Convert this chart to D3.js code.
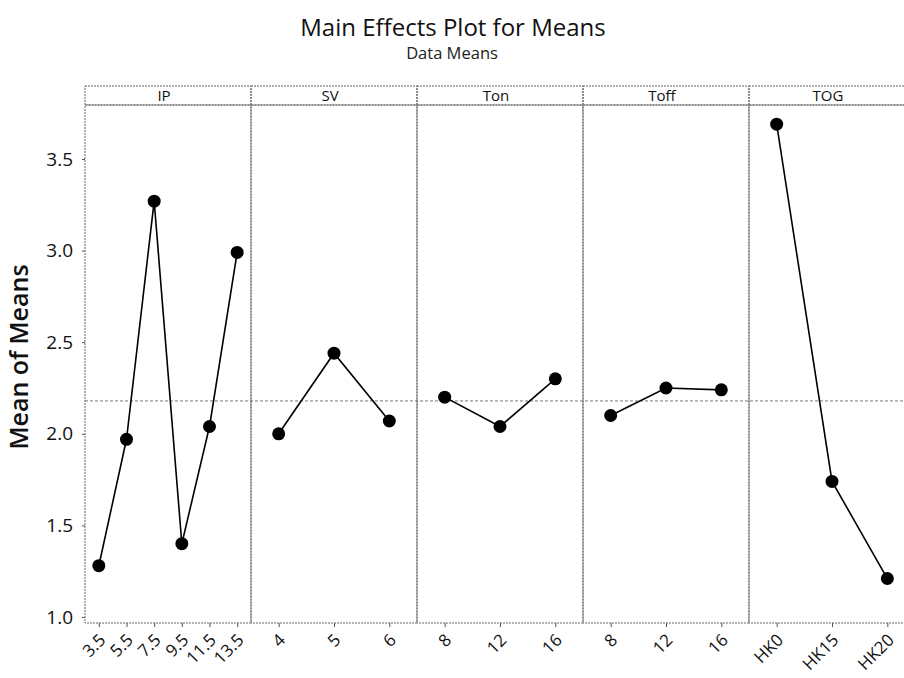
<!DOCTYPE html>
<html>
<head>
<meta charset="utf-8">
<script src="https://cdn.jsdelivr.net/npm/d3@7"></script>
<style>
  body { margin: 0; background: #fff; }
  svg { font-family: "Open Sans", "Noto Sans", sans-serif; }
</style>
</head>
<body>
<div id="chart"></div>
<script>
var w = 904;
var h = 678;

// factors (panels) and their levels
var factors = ["IP", "SV", "Ton", "Toff", "TOG"];
var ipLevels = ["3.5", "5.5", "7.5", "9.5", "11.5", "13.5"];
var svLevels = ["4", "5", "6"];
var tonLevels = ["8", "12", "16"];
var toffLevels = ["8", "12", "16"];
var togLevels = ["HK0", "HK15", "HK20"];

// mean of means for each level
var ipMeans = [1.28, 1.97, 3.27, 1.40, 2.04, 2.99];
var svMeans = [2.00, 2.44, 2.07];
var tonMeans = [2.20, 2.04, 2.30];
var toffMeans = [2.10, 2.25, 2.24];
var togMeans = [3.69, 1.74, 1.21];

var yTicks = [1.0, 1.5, 2.0, 2.5, 3.0, 3.5];

var panels = [
    { name: factors[0], levels: ipLevels, values: ipMeans },
    { name: factors[1], levels: svLevels, values: svMeans },
    { name: factors[2], levels: tonLevels, values: tonMeans },
    { name: factors[3], levels: toffLevels, values: toffMeans },
    { name: factors[4], levels: togLevels, values: togMeans }
];

var left = 85, panelW = 166;
var plotTop = 105, plotBottom = 623, stripTop = 86;

var svg = d3.select("#chart")
    .append("svg")
    .attr("width", w)
    .attr("height", h);

var y = d3.scaleLinear()
    .domain([1, 3.5])
    .range([617, 159]);

var px = d3.scaleBand()
    .domain(factors)
    .range([left, left + panelW * factors.length]);

var grandMean = d3.mean([].concat(ipMeans, svMeans, tonMeans, toffMeans, togMeans));

// titles
svg.append("text")
    .attr("x", 453).attr("y", 36)
    .attr("text-anchor", "middle")
    .attr("font-size", "24px")
    .attr("fill", "#111")
    .text("Main Effects Plot for Means");

svg.append("text")
    .attr("x", 452).attr("y", 59)
    .attr("text-anchor", "middle")
    .attr("font-size", "16.5px")
    .attr("fill", "#222")
    .text("Data Means");

svg.append("text")
    .attr("transform", "translate(28," + 357 + ") rotate(-90)")
    .attr("text-anchor", "middle")
    .attr("font-size", "25px")
    .attr("font-weight", 600)
    .attr("fill", "#111")
    .text("Mean of Means");

// y axis
var yAxis = svg.append("g")
    .attr("transform", "translate(" + left + ",0)")
    .call(d3.axisLeft(y).tickValues(yTicks).tickFormat(d3.format(".1f")).tickSize(3).tickPadding(9));
yAxis.select(".domain").remove();
yAxis.selectAll("line").attr("stroke", "#555");
yAxis.selectAll("text")
    .attr("font-size", "19px")
    .attr("fill", "#111")
    .attr("font-family", "'Open Sans', 'Noto Sans', sans-serif");

// mean reference line
svg.append("line")
    .attr("x1", left).attr("x2", w)
    .attr("y1", y(grandMean)).attr("y2", y(grandMean))
    .attr("stroke", "#777")
    .attr("stroke-width", 1)
    .attr("stroke-dasharray", "3,2");

panels.forEach(function (p) {
    var x0 = px(p.name);
    var g = svg.append("g");

    var x = d3.scalePoint()
        .domain(p.levels)
        .range([x0, x0 + panelW])
        .padding(0.5);

    // strip + panel frame
    g.append("rect")
        .attr("x", x0).attr("y", stripTop)
        .attr("width", panelW).attr("height", plotTop - stripTop)
        .attr("fill", "none")
        .attr("stroke", "#666")
        .attr("stroke-dasharray", "2,1");
    g.append("rect")
        .attr("x", x0).attr("y", plotTop)
        .attr("width", panelW).attr("height", plotBottom - plotTop)
        .attr("fill", "none")
        .attr("stroke", "#666")
        .attr("stroke-dasharray", "2,1");

    g.append("text")
        .attr("x", x0 + panelW / 2 - 4).attr("y", 101)
        .attr("text-anchor", "middle")
        .attr("font-size", "15px")
        .attr("fill", "#111")
        .text(p.name);

    // x axis
    var xAxis = g.append("g")
        .attr("transform", "translate(0," + plotBottom + ")")
        .call(d3.axisBottom(x).tickSize(4).tickSizeOuter(0));
    xAxis.select(".domain").remove();
    xAxis.selectAll("line").attr("stroke", "#555");
    xAxis.selectAll("text")
        .attr("font-size", "17px")
        .attr("fill", "#111")
        .attr("font-family", "'Open Sans', 'Noto Sans', sans-serif")
        .attr("text-anchor", "end")
        .attr("y", 0)
        .attr("dy", "0.35em")
        .attr("transform", "translate(3,14) rotate(-45)");

    var pts = p.levels.map(function (l, i) { return [x(l), y(p.values[i])]; });

    g.append("path")
        .attr("d", d3.line()(pts))
        .attr("fill", "none")
        .attr("stroke", "#000")
        .attr("stroke-width", 1.6);

    g.selectAll("circle")
        .data(pts)
        .enter()
        .append("circle")
        .attr("cx", function (d) { return d[0]; })
        .attr("cy", function (d) { return d[1]; })
        .attr("r", 6.5)
        .attr("fill", "#000");
});
</script>
</body>
</html>
